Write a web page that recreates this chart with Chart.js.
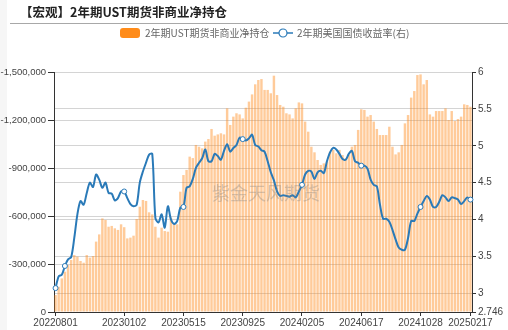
<!DOCTYPE html>
<html lang="zh">
<head>
    <meta charset="UTF-8">
    <title>2年期UST期货非商业净持仓</title>
    <script src="https://cdn.jsdelivr.net/npm/chart.js"></script>
    <style>
        body { margin: 0; background: #fff; font-family: "Noto Sans CJK SC", "Noto Sans", sans-serif; }
        #wrap { position: relative; width: 508px; height: 330px; overflow: hidden; }
        #edge { position: absolute; left: 0; top: 0; width: 7px; height: 330px; background: #f6f6f6; }
        #title { position: absolute; left: 20px; top: 2px; font-size: 12.5px; font-weight: bold; color: #222; line-height: 20px; white-space: nowrap; }
        #rule { position: absolute; left: 10px; top: 23px; width: 498px; height: 1px; background: #a8a8a8; }
        .lg { position: absolute; top: 26px; font-size: 10px; color: #666; line-height: 14px; white-space: nowrap; }
        #swatch { position: absolute; left: 120px; top: 28px; width: 20px; height: 10px; border-radius: 3px; background: #ff8c1a; }
        #lineIcon { position: absolute; left: 273px; top: 27px; }
        #mark { position: absolute; left: 212px; top: 179px; font-size: 18px; color: rgba(130,130,130,0.35); white-space: nowrap; pointer-events: none; }
        canvas { position: absolute; left: 0; top: 0; }
    </style>
</head>
<body>
<div id="wrap">
    <div id="edge"></div>
    <canvas id="cotChart" width="508" height="330"></canvas>
    <div id="title">【宏观】2年期UST期货非商业净持仓</div>
    <div id="rule"></div>
    <div id="swatch"></div>
    <div class="lg" style="left:145px">2年期UST期货非商业净持仓</div>
    <svg id="lineIcon" width="20" height="12">
        <line x1="0" y1="6" x2="20" y2="6" stroke="#2a7ab8" stroke-width="1.5"/>
        <circle cx="10" cy="6" r="4" fill="#fff" stroke="#2a7ab8" stroke-width="1.2"/>
    </svg>
    <div class="lg" style="left:297px">2年期美国国债收益率(右)</div>
    <div id="mark">紫金天风期货</div>
</div>

<script>
    // weekly COT reports, first Monday 2022-08-01
    const startDay = Date.UTC(2022, 7, 1);
    const weekCount = 134;

    // non-commercial net position, 2y UST futures (contracts)
    const netPos = [
        -106000, -158000, -210000, -252000, -294000, -325000, -356000, -346000, -319000, -308000,
        -356000, -340000, -350000, -440000, -485000, -585000, -575000, -533000, -538000, -523000,
        -513000, -548000, -530000, -460000, -465000, -477000, -581000, -658000, -700000, -694000,
        -623000, -610000, -533000, -465000, -527000, -506000, -502000, -590000, -548000, -548000,
        -752000, -856000, -888000, -971000, -962000, -1044000, -1033000, -1023000, -1065000, -1081000,
        -1144000, -1102000, -1110000, -1117000, -1110000, -1273000, -1169000, -1221000, -1242000, -1235000,
        -1210000, -1277000, -1315000, -1360000, -1423000, -1450000, -1456000, -1388000, -1388000, -1367000,
        -1477000, -1356000, -1294000, -1283000, -1242000, -1235000, -1210000, -1273000, -1310000, -1304000,
        -1190000, -1127000, -1033000, -998000, -950000, -919000, -929000, -940000, -1002000, -1013000,
        -992000, -1013000, -981000, -960000, -981000, -1033000, -1044000, -1138000, -1267000, -1263000,
        -1221000, -1231000, -1190000, -1144000, -1106000, -1106000, -1106000, -1158000, -1033000, -985000,
        -998000, -1044000, -1179000, -1231000, -1340000, -1381000, -1481000, -1485000, -1423000, -1450000,
        -1235000, -1221000, -1256000, -1256000, -1256000, -1273000, -1200000, -1256000, -1194000, -1206000,
        -1221000, -1298000, -1294000, -1283000
    ];

    // 2y treasury yield, %
    const yield2y = [
        3.07, 3.23, 3.25, 3.37, 3.46, 3.49, 3.75, 4.07, 4.25, 4.20,
        4.36, 4.50, 4.44, 4.61, 4.54, 4.43, 4.50, 4.36, 4.35, 4.26,
        4.29, 4.38, 4.38, 4.29, 4.21, 4.18, 4.20, 4.50, 4.65, 4.77,
        4.88, 4.89, 4.02, 3.96, 4.07, 3.89, 4.18, 4.00, 3.94, 3.98,
        4.16, 4.17, 4.43, 4.45, 4.55, 4.70, 4.77, 4.83, 4.95, 4.79,
        4.79, 4.89, 4.86, 4.81, 4.93, 5.02, 4.92, 4.97, 5.01, 5.11,
        5.09, 5.07, 5.10, 5.15, 5.01, 4.99, 4.94, 4.92, 4.79, 4.64,
        4.53, 4.38, 4.32, 4.33, 4.32, 4.31, 4.33, 4.30, 4.38, 4.47,
        4.61, 4.66, 4.65, 4.55, 4.64, 4.66, 4.63, 4.79, 4.91, 4.97,
        4.95, 4.89, 4.82, 4.81, 4.89, 4.93, 4.79, 4.77, 4.73, 4.73,
        4.69, 4.54, 4.47, 4.45, 4.20, 4.01, 4.01, 3.97, 3.86, 3.73,
        3.62, 3.59, 3.59, 3.75, 3.98, 3.98, 4.08, 4.17, 4.25, 4.32,
        4.27, 4.17, 4.17, 4.24, 4.33, 4.30, 4.25, 4.30, 4.29, 4.27,
        4.21, 4.25, 4.30, 4.27
    ];

    const dateTickIdx = [0, 22, 41, 60, 79, 98, 117, 133];
    const markerIdx = [0, 3, 22, 41, 60, 79, 98, 117, 133];
    const yieldTicks = [2.746, 3, 3.5, 4, 4.5, 5, 5.5, 6];

    const weeks = [];
    for (let i = 0; i < weekCount; i++) {
        const d = new Date(startDay + i * 7 * 86400000);
        weeks.push(d.getUTCFullYear() + String(d.getUTCMonth() + 1).padStart(2, '0') + String(d.getUTCDate()).padStart(2, '0'));
    }

    const tickFont = { family: '"Liberation Sans", Arial, sans-serif', size: 10 };
    const gridColor = '#d4d4d4';
    const axisColor = '#333';

    const ctx = document.getElementById('cotChart').getContext('2d');
    new Chart(ctx, {
        data: {
            labels: weeks,
            datasets: [
                {
                    type: 'line',
                    label: '2年期美国国债收益率(右)',
                    data: yield2y,
                    yAxisID: 'y1',
                    borderColor: '#2a7ab8',
                    borderWidth: 2,
                    tension: 0.3,
                    pointRadius: c => markerIdx.includes(c.dataIndex) ? 2.5 : 0,
                    pointBackgroundColor: '#fff',
                    pointBorderColor: '#2a7ab8',
                    pointBorderWidth: 1,
                    order: 0
                },
                {
                    type: 'bar',
                    label: '2年期UST期货非商业净持仓',
                    data: netPos,
                    yAxisID: 'y',
                    backgroundColor: 'rgba(255,140,30,0.45)',
                    barPercentage: 0.78,
                    categoryPercentage: 1,
                    order: 1
                }
            ]
        },
        options: {
            responsive: false,
            animation: false,
            layout: { padding: { top: 72, left: 0, right: 0, bottom: 0 } },
            plugins: { legend: { display: false }, tooltip: { enabled: false } },
            scales: {
                x: {
                    offset: true,
                    grid: { drawOnChartArea: false, offset: false, tickLength: 4, tickColor: axisColor },
                    border: { color: axisColor },
                    ticks: { autoSkip: false, maxRotation: 0, padding: 1, font: tickFont, color: '#444' },
                    afterBuildTicks: s => { s.ticks = s.ticks.filter(t => dateTickIdx.includes(t.value)); },
                    afterFit: s => { s.height = 18; }
                },
                y: {
                    position: 'left',
                    reverse: true,
                    min: -1500000,
                    max: 0,
                    grid: { color: gridColor, tickLength: 6, tickColor: axisColor },
                    border: { color: axisColor },
                    ticks: { stepSize: 300000, padding: 2, font: { family: tickFont.family, size: 9.5 }, color: '#444',
                        callback: v => v.toLocaleString('en-US') },
                    afterFit: s => { s.width = 54; }
                },
                y1: {
                    position: 'right',
                    min: 2.746,
                    max: 6,
                    grid: { color: gridColor, tickLength: 4, tickColor: axisColor },
                    border: { color: axisColor },
                    ticks: { padding: 2, font: tickFont, color: '#444', callback: v => String(v) },
                    afterBuildTicks: s => { s.ticks = yieldTicks.map(v => ({ value: v })); },
                    afterFit: s => { s.width = 36; }
                }
            }
        }
    });
</script>
</body>
</html>
